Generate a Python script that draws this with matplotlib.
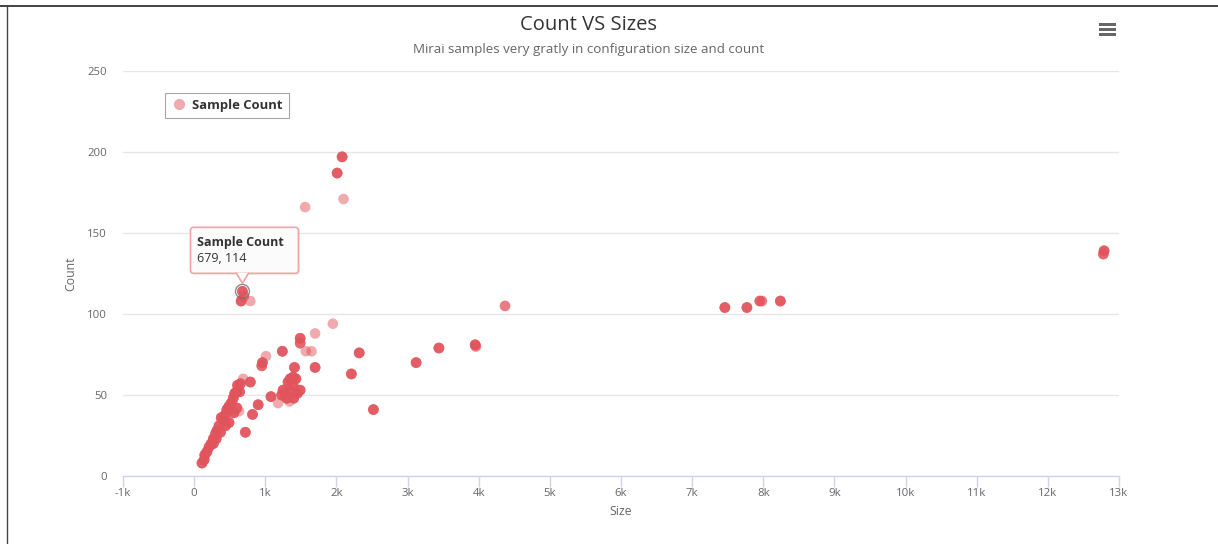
import numpy as np
import matplotlib
matplotlib.use("Agg")
import matplotlib.pyplot as plt
from matplotlib.patches import FancyBboxPatch, Polygon, Rectangle
from matplotlib.transforms import IdentityTransform
from matplotlib.lines import Line2D

plt.rcParams['font.family'] = ['Open Sans', 'DejaVu Sans']

# ---- data (size, count, number of overlapping samples) ----
sizes = [679, 660, 790, 700, 2010, 2080, 2100, 1560,
         1950, 1700, 1490, 1490, 1570, 1650, 1240, 1700, 2320, 2210, 2520,
         3120, 3440, 3950, 3960, 4370,
         7460, 7770, 7950, 7980, 8240, 12790, 12780,
         1010, 690, 790, 820, 720, 900, 960, 950, 630,
         1080, 1180, 1250, 1320, 1350, 1390, 1450, 1490, 1390, 1280, 1410, 1430,
         1230, 1300, 1360, 1400, 1340,
         110, 140, 150, 180, 210, 240, 270, 300, 320, 350, 380, 410, 440, 460,
         490, 520, 550, 570, 600, 640, 610, 650,
         270, 310, 370, 440, 490, 560, 600, 520, 420]
counts = [114, 108, 108, 111, 187, 197, 171, 166,
          94, 88, 85, 82, 77, 77, 77, 67, 76, 63, 41,
          70, 79, 81, 80, 105,
          104, 104, 108, 108, 108, 139, 137,
          74, 60, 58, 38, 27, 44, 70, 68, 40,
          49, 45, 53, 58, 60, 56, 51, 53, 61, 51, 67, 60,
          50, 48, 52, 48, 46,
          8, 10, 13, 15, 18, 20, 23, 26, 28, 31, 36, 35, 38, 41,
          43, 45, 48, 51, 52, 52, 56, 57,
          20, 23, 27, 31, 33, 39, 42, 41, 34]
repeats = [4, 4, 1, 2, 4, 4, 1, 1,
           1, 1, 4, 3, 1, 1, 4, 4, 4, 4, 4,
           4, 4, 4, 2, 2,
           4, 4, 3, 2, 4, 4, 3,
           1, 1, 4, 4, 4, 4, 4, 3, 1,
           4, 1, 4, 4, 4, 4, 4, 4, 4, 4, 4, 4,
           4, 4, 4, 4, 1,
           4, 4, 4, 4, 4, 4, 4, 4, 4, 4, 4, 4, 4, 4,
           4, 4, 4, 4, 4, 4, 4, 4,
           4, 4, 4, 4, 4, 4, 4, 4, 4]

x_ticks = list(range(-1000, 13001, 1000))
x_tick_labels = ['-1k', '0', '1k', '2k', '3k', '4k', '5k', '6k', '7k', '8k',
                 '9k', '10k', '11k', '12k', '13k']
y_ticks = [0, 50, 100, 150, 200, 250]

hover_point = (679, 114)

W, H = 1218, 544
fig = plt.figure(figsize=(W / 100, H / 100), dpi=100)
ax = fig.add_axes([123 / W, 1 - 476 / H, (1119 - 123) / W, (476 - 71) / H])

series_color = (226 / 255, 84 / 255, 92 / 255)
xs = np.repeat(np.array(sizes), repeats)
ys = np.repeat(np.array(counts), repeats)
ax.scatter(xs, ys, s=58, color=series_color, alpha=0.5, edgecolors='none',
           zorder=3, clip_on=False)

# hovered point halo
ax.scatter([hover_point[0]], [hover_point[1]], s=100, facecolors='none',
           edgecolors='#707070', linewidths=1.0, zorder=4, alpha=0.8)

ax.set_xlim(-1000, 13000)
ax.set_ylim(0, 250)
ax.set_xticks(x_ticks)
ax.set_xticklabels(x_tick_labels)
ax.set_yticks(y_ticks)

for s in ['top', 'right', 'left']:
    ax.spines[s].set_visible(False)
ax.spines['bottom'].set_color('#ccd6eb')
ax.spines['bottom'].set_linewidth(1)
ax.grid(axis='y', color='#e6e6e6', linewidth=1)
ax.set_axisbelow(True)
ax.tick_params(axis='x', colors='#ccd6eb', length=8, width=1, labelcolor='#666666',
               labelsize=8.2, pad=1)
ax.tick_params(axis='y', length=0, labelcolor='#666666', labelsize=8.2, pad=11.5)
ax.set_xlabel('Size', color='#666666', fontsize=8.8, labelpad=4)
ax.set_ylabel('Count', color='#666666', fontsize=8.8, labelpad=7.3)

# title / subtitle
fig.text(589 / W, 1 - 25 / H, 'Count VS Sizes', ha='center',
         va='center', fontsize=14.5, color='#333333')
fig.text(589 / W, 1 - 49 / H,
         'Mirai samples very gratly in configuration size and count',
         ha='center', va='center', fontsize=9.6, color='#666666')

# legend
handle = Line2D([], [], linestyle='none', marker='o', markersize=8,
                markerfacecolor=series_color, markeredgecolor='none', alpha=0.5)
leg = ax.legend([handle], ['Sample Count'], loc='upper left',
                bbox_to_anchor=(0.0422, 0.9457), borderaxespad=0,
                frameon=True, fancybox=False,
                edgecolor='#909090', handletextpad=0.35, borderpad=0.45,
                prop={'weight': 'bold', 'size': 9.4}, handlelength=1.3)
leg.get_frame().set_linewidth(0.8)
for t in leg.get_texts():
    t.set_color('#333333')

# tooltip anchored to the hovered point
fig.canvas.draw()
px, py = ax.transData.transform(hover_point)
bx0, bx1 = px - 52, px + 56
by0, by1 = py + 18, py + 64
tip_color = '#f0a5a5'
shadow = FancyBboxPatch((bx0 + 1.5, by0 - 1.5), bx1 - bx0, by1 - by0,
                        boxstyle='round,pad=0,rounding_size=3',
                        transform=IdentityTransform(), facecolor='#00000012',
                        edgecolor='none', zorder=9)
fig.add_artist(shadow)
box = FancyBboxPatch((bx0, by0), bx1 - bx0, by1 - by0,
                     boxstyle='round,pad=0,rounding_size=3',
                     transform=IdentityTransform(), facecolor='#fbfbfb',
                     edgecolor=tip_color, linewidth=1.2, zorder=10)
fig.add_artist(box)
tri = Polygon([(px - 6, by0 + 0.6), (px + 6, by0 + 0.6), (px, py + 8)],
              closed=True, transform=IdentityTransform(), facecolor='#fbfbfb',
              edgecolor='none', zorder=11)
fig.add_artist(tri)
fig.add_artist(Line2D([px - 6, px, px + 6], [by0, py + 8, by0],
                      transform=IdentityTransform(), color=tip_color,
                      linewidth=1.2, zorder=12))
fig.text((bx0 + 7) / W, (by1 - 15) / H, 'Sample Count', fontsize=9,
         fontweight='bold', color='#333333', ha='left', va='center', zorder=13)
fig.text((bx0 + 7) / W, (by1 - 31) / H, '%d, %d' % hover_point, fontsize=9,
         color='#333333', ha='left', va='center', zorder=13)

# hamburger menu icon
for k in range(3):
    fig.add_artist(Rectangle(((1099) / W, 1 - (26 + k * 5) / H), 17 / W, 2.5 / H,
                             transform=fig.transFigure, facecolor='#666666',
                             edgecolor='none'))

# screenshot frame lines
fig.add_artist(Line2D([0, 1], [1 - 6 / H, 1 - 6 / H], transform=fig.transFigure,
                      color='#222222', linewidth=1.2))
fig.add_artist(Line2D([7 / W, 7 / W], [0, 1 - 6 / H], transform=fig.transFigure,
                      color='#444444', linewidth=1.0))

fig.savefig('out.png', dpi=100)
